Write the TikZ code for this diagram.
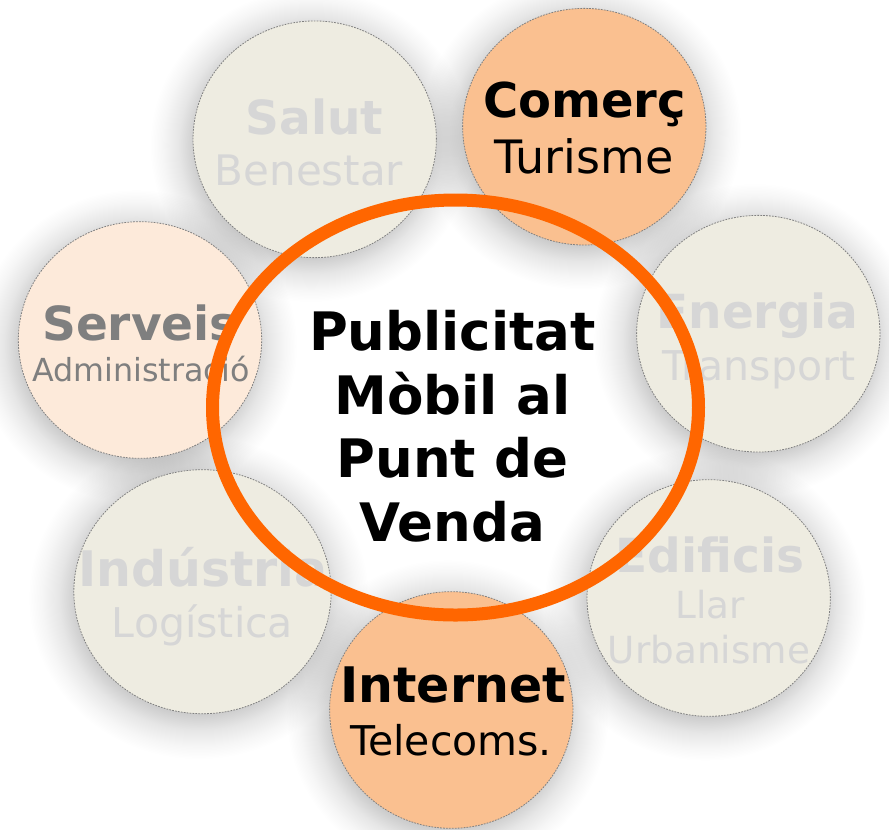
\documentclass[tikz,border=0pt]{standalone}
\usepackage{fontspec}
\setmainfont{DejaVu Sans}
\usetikzlibrary{shapes.geometric,calc}
\definecolor{beige}{HTML}{EEECE1}
\definecolor{peach}{HTML}{FAC090}
\definecolor{lightpeach}{HTML}{FDEADA}
\definecolor{ringorange}{HTML}{FF6600}
\definecolor{faint}{HTML}{D6D6D6}
\definecolor{midgray}{HTML}{7F7F7F}
\definecolor{dotgray}{HTML}{808080}
\definecolor{shd}{HTML}{CDCDCD}
\definecolor{shdb}{HTML}{E6E6E6}
\definecolor{shdc}{HTML}{F6F6F6}
\pgfdeclareradialshading{halo}{\pgfpointorigin}{color(0bp)=(shd); color(18bp)=(shd); color(20.5bp)=(shdb); color(23bp)=(shdc); color(25bp)=(white); color(50bp)=(white)}
\pgfdeclarelayer{bg}
\pgfsetlayers{bg,main}
\newcommand{\fsz}[1]{\fontsize{#1}{#1}\selectfont}
\tikzset{
  bub/.style={ellipse, draw=dotgray, line width=0.6pt, dash pattern=on 1.3pt off 0.9pt,
              inner sep=0pt, minimum width=182.5pt, minimum height=177.5pt},
  title/.style={anchor=base, inner sep=0pt, font=\bfseries\fsz{#1}},
  sub/.style={anchor=base, inner sep=0pt, font=\fsz{#1}},
}
\begin{document}
\begin{tikzpicture}[x=0.75pt,y=-0.75pt]
\useasboundingbox (0,0) rectangle (889,829);

% bubbles
\node[bub, fill=beige] (salut) at (314.7,139.3) {};
\node[bub, fill=peach] (comerc) at (584.3,126.7) {};
\node[bub, fill=lightpeach] (serveis) at (140,340) {};
\node[bub, fill=beige] (energia) at (758.3,333.7) {};
\node[bub, fill=beige, minimum width=193pt, minimum height=183pt] (industria) at (202.5,591.7) {};
\node[bub, fill=beige] (edificis) at (708.7,598) {};
\node[bub, fill=peach] (internet) at (451.3,710) {};

% background and soft shadows
\begin{pgfonlayer}{bg}
\fill[white] (0,0) rectangle (889,829);
\foreach \nm in {salut,comerc,serveis,energia,industria,edificis,internet}{
  \path let \p1=($(\nm.east)-(\nm.center)$), \p2=($(\nm.north)-(\nm.center)$) in
    [shade, shading=halo, blend mode=multiply] ($(\nm.center)+(-4,6)$) ellipse ({1.32*\x1} and {1.32*\y2});
}
\end{pgfonlayer}

% texts
\node[title=35.25pt, text=faint] (salutT) at (314.5,134) {Salut};
\node[sub=31.5pt, text=faint] (salutS) at (309,185.5) {Benestar};

\node[title=36pt, text=black] (comercT) at (584.5,117) {Comerç};
\node[sub=34.5pt, text=black] (comercS) at (584,173) {Turisme};

\node[title=35.25pt, text=midgray] (serveisT) at (140,340) {Serveis};
\node[sub=23.8pt, text=midgray] (serveisS) at (141,381.5) {Administració};

\node[title=35.25pt, text=faint] (energiaT) at (757.5,328) {Energia};
\node[sub=30.75pt, text=faint] (energiaS) at (759,380.5) {Transport};

\node[title=36.75pt, text=faint] (industriaT) at (203,586) {Indústria};
\node[sub=30.75pt, text=faint] (industriaS) at (202.5,637) {Logística};

\node[title=35.25pt, text=faint] (edificisT) at (710,572) {Edificis};
\node[sub=28pt, text=faint] (edificisS) at (710,618.3) {Llar};
\node[sub=28pt, text=faint] (edificisU) at (709,663.5) {Urbanisme};

\node[title=36.75pt, text=black] (internetT) at (453,702.5) {Internet};
\node[sub=30.75pt, text=black] (internetS) at (451,755.5) {Telecoms.};

% central ring
\node[ellipse, draw=ringorange, line width=9.75pt, inner sep=0pt,
      minimum width=364.5pt, minimum height=311.25pt] (ring) at (455.5,407.5) {};
\node[align=center, inner sep=0pt, font=\bfseries\fontsize{39.75pt}{47.8pt}\selectfont]
  (centre) at (452.5,426.2) {Publicitat\\Mòbil al\\Punt de\\Venda};
\end{tikzpicture}
\end{document}
